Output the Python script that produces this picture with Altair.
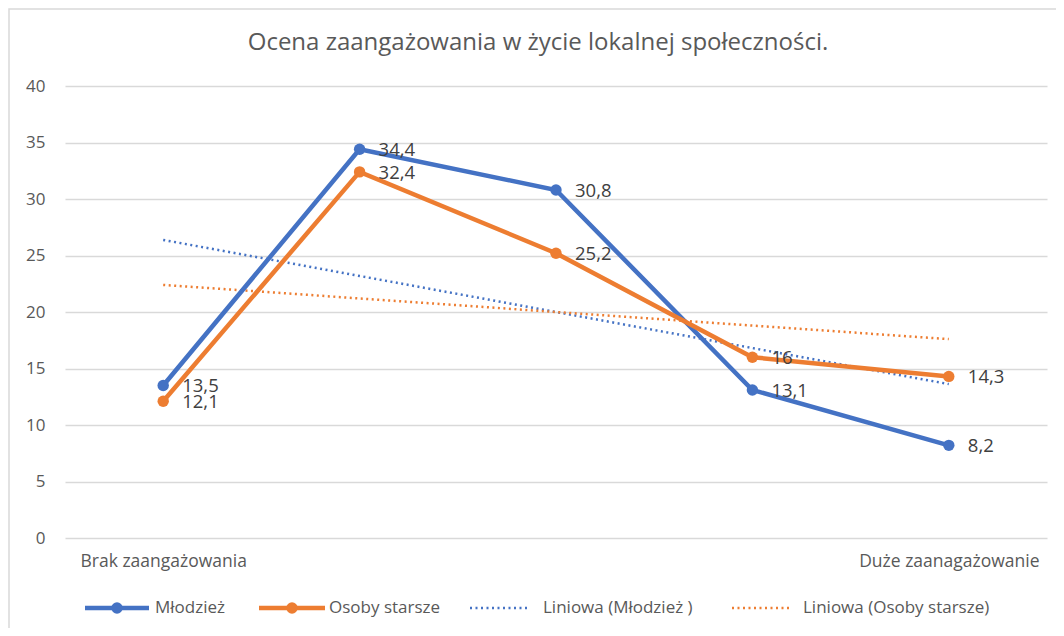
import altair as alt
import pandas as pd

categories = ["Brak zaangażowania", "", "", "", "Duże zaanagażowanie"]
mlodziez = [13.5, 34.4, 30.8, 13.1, 8.2]
osoby = [12.1, 32.4, 25.2, 16, 14.3]
series_names = ["Młodzież", "Osoby starsze"]
trend_names = ["Liniowa (Młodzież )", "Liniowa (Osoby starsze)"]
colors = ["#4472C4", "#ED7D31"]
title_text = "Ocena zaangażowania w życie lokalnej społeczności."

rows = []
for name, vals in zip(series_names, [mlodziez, osoby]):
    for i, (c, v) in enumerate(zip(categories, vals)):
        rows.append({"idx": i, "cat": c, "v": v, "series": name})
df = pd.DataFrame(rows)

W, H = 982, 452
FONT = "Open Sans"
TXT = "#595959"

color_scale = alt.Scale(domain=series_names, range=colors)
label_expr = "datum.value == 0 ? '" + categories[0] + "' : (datum.value == 4 ? '" + categories[4] + "' : '')"

x_enc = alt.X("idx:Q", scale=alt.Scale(domain=[-0.5, 4.5], nice=False, zero=False),
              axis=alt.Axis(values=[0, 4], labelExpr=label_expr, grid=False, domain=False, ticks=False,
                            labelPadding=14, labelFontSize=17.5, labelColor=TXT, labelFont=FONT,
                            labelLimit=0, labelOverlap=False, labelBound=False, title=None))
y_enc = alt.Y("v:Q", scale=alt.Scale(domain=[0, 40], nice=False),
              axis=alt.Axis(values=list(range(0, 41, 5)), grid=True, gridColor="#d9d9d9", gridWidth=1.3,
                            domain=False, ticks=False, labelPadding=20, labelFontSize=17,
                            labelColor=TXT, labelFont=FONT, title=None))

base = alt.Chart(df)

one = pd.DataFrame({"a": [0]})

frame = alt.Chart(one).mark_rect(fill="transparent", stroke="#d9d9d9", strokeWidth=1.5).encode(
    x=alt.value(-56), x2=alt.value(W + 60), y=alt.value(-77), y2=alt.value(H + 120))

trend = base.transform_regression("idx", "v", groupby=["series"]).mark_line(
    strokeWidth=2.5, strokeDash=[2, 3.5]).encode(
    x=x_enc, y=y_enc, color=alt.Color("series:N", scale=color_scale, legend=None))

lines = base.mark_line(strokeWidth=4.5, point=alt.OverlayMarkDef(size=130, filled=True, opacity=1)).encode(
    x=x_enc, y=y_enc, color=alt.Color("series:N", scale=color_scale, legend=None))

labels = base.transform_calculate(
    lab="replace(toString(datum.v), '.', ',')"
).mark_text(align="left", baseline="middle", dx=19, dy=1, fontSize=18.5, font=FONT, color="#404040").encode(
    x=x_enc, y=y_enc, text="lab:N")

title = alt.Chart(one).mark_text(
    fontSize=24, font=FONT, color=TXT, align="center", baseline="middle").encode(
    x=alt.value(473), y=alt.value(-43), text=alt.value(title_text))

# legend
LY = H + 70
legend_layers = []
leg_items = [
    (series_names[0], colors[0], False, 20, 84, 90),
    (series_names[1], colors[1], False, 194, 260, 264),
    (trend_names[0], colors[0], True, 405, 462, 478),
    (trend_names[1], colors[1], True, 667, 724, 738),
]
for label, col, dotted, x1, x2, tx in leg_items:
    if dotted:
        legend_layers.append(alt.Chart(one).mark_rule(color=col, strokeWidth=2.5, strokeDash=[2, 3.5]).encode(
            x=alt.value(x1), x2=alt.value(x2), y=alt.value(LY)))
    else:
        legend_layers.append(alt.Chart(one).mark_rule(color=col, strokeWidth=4.5).encode(
            x=alt.value(x1), x2=alt.value(x2), y=alt.value(LY)))
        legend_layers.append(alt.Chart(one).mark_point(filled=True, size=130, opacity=1, color=col).encode(
            x=alt.value((x1 + x2) / 2), y=alt.value(LY)))
    legend_layers.append(alt.Chart(one).mark_text(align="left", baseline="middle", fontSize=17, font=FONT,
                                                  color=TXT).encode(
        x=alt.value(tx), y=alt.value(LY), text=alt.value(label)))

chart = alt.layer(frame, trend, lines, labels, title, *legend_layers).properties(
    width=W, height=H,
    background="white",
    autosize=alt.AutoSizeParams(type="none"),
    padding={"left": 57, "top": 78, "right": 9, "bottom": 90},
).configure_view(stroke=None, strokeWidth=0)

chart.save("out.html", embed_options={"renderer": "svg", "actions": False})
